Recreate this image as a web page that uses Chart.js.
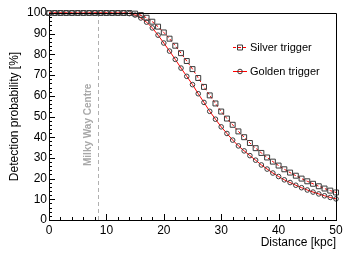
<!DOCTYPE html>
<html>
<head>
<meta charset="utf-8">
<script src="https://cdn.jsdelivr.net/npm/chart.js@4/dist/chart.umd.min.js"></script>
<style>
  html, body { margin: 0; padding: 0; background: #fff; }
  #chart { display: block; }
</style>
</head>
<body>
<canvas id="chart" width="355" height="256"></canvas>
<script>
// distance in kpc
const distance = [0, 1, 2, 3, 4, 5, 6, 7, 8, 9, 10, 11, 12, 13, 14, 15, 16, 17, 18, 19, 20,
  21, 22, 23, 24, 25, 26, 27, 28, 29, 30, 31, 32, 33, 34, 35, 36, 37, 38, 39, 40,
  41, 42, 43, 44, 45, 46, 47, 48, 49, 50];

// detection probability in %
const silverTrigger = [100, 100, 100, 100, 100, 100, 100, 100, 100, 100, 100, 100, 100, 100, 100,
  99.7, 99.0, 97.7, 95.8, 93.4, 90.6, 87.6, 84.2, 80.6, 76.8, 72.9, 68.6, 64.3, 60.2, 56.3, 52.4,
  49.0, 46.0, 42.8, 40.0, 37.2, 34.7, 32.4, 30.2, 28.2, 26.3, 24.5, 22.9, 21.4, 20.0, 18.7,
  17.5, 16.3, 15.2, 14.2, 13.3];
const goldenTrigger = [100, 100, 100, 100, 100, 100, 100, 100, 100, 100, 100, 100, 100, 100, 99.7,
  99.0, 97.6, 95.6, 92.8, 89.3, 85.5, 81.6, 77.6, 73.4, 69.4, 65.4, 61.0, 56.8, 52.5, 48.7, 45.0,
  41.8, 38.6, 35.8, 33.4, 31.1, 28.9, 26.6, 24.6, 22.7, 21.0, 19.4, 18.1, 16.8, 15.6, 14.5,
  13.5, 12.6, 11.7, 10.9, 10.2];

const xTicks = [0, 10, 20, 30, 40, 50];
const yTicks = [0, 10, 20, 30, 40, 50, 60, 70, 80, 90, 100];
const milkyWayCentre = 8.5;

const FONT = 'Liberation Sans, Arial, Helvetica, sans-serif';
const RED = '#ff0000';
const MARK = '#3a3a3a';

const toPoints = (ys) => distance.map((d, i) => ({ x: d, y: ys[i] }));

// ROOT-style frame: inward ticks, box, titles, legend, galactic-centre marker
const rootFrame = {
  id: 'rootFrame',
  beforeDatasetsDraw(chart) {
    const { ctx, chartArea: a, scales: { x, y } } = chart;
    const mx = Math.round(x.getPixelForValue(milkyWayCentre)) + 0.5;
    ctx.save();
    ctx.strokeStyle = '#b0b0b0';
    ctx.lineWidth = 1;
    ctx.setLineDash([4, 3]);
    ctx.beginPath();
    ctx.moveTo(mx, a.top);
    ctx.lineTo(mx, a.bottom);
    ctx.stroke();
    ctx.setLineDash([]);

    ctx.translate(mx - 10, y.getPixelForValue(46));
    ctx.rotate(-Math.PI / 2);
    ctx.fillStyle = '#a8a8a8';
    ctx.font = 'bold 10px ' + FONT;
    ctx.textAlign = 'center';
    ctx.textBaseline = 'middle';
    ctx.fillText('Milky Way Centre', 0, 0);
    ctx.restore();
  },
  afterDraw(chart) {
    const { ctx, chartArea: a, scales: { x, y } } = chart;
    ctx.save();
    ctx.strokeStyle = '#000';
    ctx.lineWidth = 1;
    ctx.beginPath();
    // top and right of the box
    ctx.moveTo(Math.round(a.left), Math.round(a.top) + 0.5);
    ctx.lineTo(Math.round(a.right) + 0.5, Math.round(a.top) + 0.5);
    ctx.lineTo(Math.round(a.right) + 0.5, Math.round(a.bottom));
    // inward ticks
    for (let v = 0; v <= 100; v += 2) {
      const py = Math.round(y.getPixelForValue(v)) + 0.5;
      const len = v % 10 === 0 ? 6 : 3;
      ctx.moveTo(a.left, py);
      ctx.lineTo(a.left + len, py);
    }
    for (let v = 0; v <= 50; v += 2) {
      const px = Math.round(x.getPixelForValue(v)) + 0.5;
      const len = v % 10 === 0 ? 6 : 3;
      ctx.moveTo(px, a.bottom);
      ctx.lineTo(px, a.bottom - len);
    }
    ctx.stroke();

    // axis titles
    ctx.fillStyle = '#000';
    ctx.font = '12px ' + FONT;
    ctx.textBaseline = 'middle';
    ctx.textAlign = 'right';
    ctx.fillText('Distance [kpc]', a.right, 243);
    ctx.save();
    ctx.translate(15, (a.top + a.bottom) / 2);
    ctx.rotate(-Math.PI / 2);
    ctx.textAlign = 'center';
    ctx.fillText('Detection probability [%]', 0, 0);
    ctx.restore();

    // legend
    const items = [
      { label: 'Silver trigger', style: 'rect', dash: [3, 2], y: 47 },
      { label: 'Golden trigger', style: 'circle', dash: [], y: 71 }
    ];
    ctx.font = '11px ' + FONT;
    ctx.textAlign = 'left';
    items.forEach((it) => {
      ctx.strokeStyle = RED;
      ctx.setLineDash(it.dash);
      ctx.beginPath();
      ctx.moveTo(233, it.y + 0.5);
      ctx.lineTo(247, it.y + 0.5);
      ctx.stroke();
      ctx.setLineDash([]);
      ctx.strokeStyle = MARK;
      ctx.beginPath();
      if (it.style === 'rect') ctx.rect(237.5, it.y - 2, 5, 5);
      else ctx.arc(240, it.y + 0.5, 2.3, 0, Math.PI * 2);
      ctx.stroke();
      ctx.fillStyle = '#000';
      ctx.fillText(it.label, 250, it.y + 0.5);
    });
    ctx.restore();
  }
};

new Chart(document.getElementById('chart'), {
  type: 'line',
  data: {
    datasets: [{
      label: 'Silver trigger',
      data: toPoints(silverTrigger),
      borderColor: RED,
      borderWidth: 1,
      borderDash: [3, 2],
      pointStyle: 'rect',
      pointRadius: 3.5,
      pointBorderColor: MARK,
      pointBorderWidth: 1,
      pointBackgroundColor: 'rgba(0,0,0,0)',
      tension: 0,
      clip: false
    }, {
      label: 'Golden trigger',
      data: toPoints(goldenTrigger),
      borderColor: RED,
      borderWidth: 1,
      pointStyle: 'circle',
      pointRadius: 2.3,
      pointBorderColor: MARK,
      pointBorderWidth: 1,
      pointBackgroundColor: 'rgba(0,0,0,0)',
      tension: 0,
      clip: false
    }]
  },
  options: {
    responsive: false,
    animation: false,
    devicePixelRatio: 1,
    layout: { padding: { top: 13, right: 19, left: 0, bottom: 0 } },
    plugins: {
      legend: { display: false },
      tooltip: { enabled: false }
    },
    scales: {
      x: {
        type: 'linear',
        min: 0,
        max: 50,
        afterBuildTicks: (s) => { s.ticks = xTicks.map((v) => ({ value: v })); },
        afterFit: (s) => { s.height = 36; },
        ticks: { color: '#000', font: { family: FONT, size: 12 }, padding: 3, maxRotation: 0 },
        grid: { display: false, drawTicks: false },
        border: { color: '#000', width: 1 }
      },
      y: {
        min: 0,
        max: 100,
        afterBuildTicks: (s) => { s.ticks = yTicks.map((v) => ({ value: v })); },
        afterFit: (s) => { s.width = 49; },
        ticks: { color: '#000', font: { family: FONT, size: 12 }, padding: 2 },
        grid: { display: false, drawTicks: false },
        border: { color: '#000', width: 1 }
      }
    }
  },
  plugins: [rootFrame]
});
</script>
</body>
</html>
